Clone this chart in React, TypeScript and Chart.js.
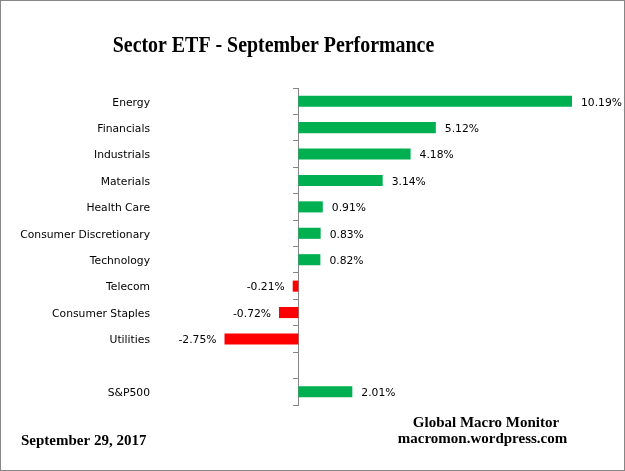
import React, { useEffect, useRef } from 'react';
import { Chart, registerables } from 'chart.js';

Chart.register(...registerables);

const categories = [
  'Energy',
  'Financials',
  'Industrials',
  'Materials',
  'Health Care',
  'Consumer Discretionary',
  'Technology',
  'Telecom',
  'Consumer Staples',
  'Utilities',
  '',
  'S&P500',
];
const performance: (number | null)[] = [10.19, 5.12, 4.18, 3.14, 0.91, 0.83, 0.82, -0.21, -0.72, -2.75, null, 2.01];

const titleText = 'Sector ETF - September Performance';
const dateText = 'September 29, 2017';
const sourceLines = ['Global Macro Monitor', 'macromon.wordpress.com'];

const GREEN = '#00B050';
const RED = '#FF0000';
const AXIS_GRAY = '#868686';
const LABEL_FONT = '"DejaVu Sans", sans-serif';
const SERIF = '"Liberation Serif", "Times New Roman", serif';

const valueLabelPlugin = {
  id: 'valueLabels',
  afterDatasetsDraw(chart: any) {
    const ctx = chart.ctx;
    const meta = chart.getDatasetMeta(0);
    ctx.save();
    ctx.font = `10.75px ${LABEL_FONT}`;
    ctx.fillStyle = '#000';
    ctx.textBaseline = 'middle';
    meta.data.forEach((el: any, i: number) => {
      const v = performance[i];
      if (v === null || v === undefined) return;
      const txt = v.toFixed(2) + '%';
      if (v >= 0) {
        ctx.textAlign = 'left';
        ctx.fillText(txt, el.x + 9, el.y + 1.5);
      } else {
        ctx.textAlign = 'right';
        ctx.fillText(txt, el.x - 8, el.y + 1.5);
      }
    });
    ctx.restore();
  },
};

const annotationsPlugin = {
  id: 'annotations',
  afterDraw(chart: any) {
    const ctx = chart.ctx;
    ctx.save();
    // outer border
    ctx.strokeStyle = AXIS_GRAY;
    ctx.lineWidth = 1;
    ctx.strokeRect(0.5, 0.5, chart.width - 1, chart.height - 1);

    ctx.fillStyle = '#000';
    ctx.textBaseline = 'alphabetic';

    // title
    ctx.save();
    ctx.font = `bold 23px ${SERIF}`;
    ctx.textAlign = 'center';
    ctx.translate(273.5, 51.7);
    ctx.scale(0.865, 1);
    ctx.fillText(titleText, 0, 0);
    ctx.restore();

    // date
    ctx.font = `bold 15px ${SERIF}`;
    ctx.textAlign = 'left';
    ctx.fillText(dateText, 21, 445);

    // source
    ctx.textAlign = 'center';
    ctx.fillText(sourceLines[0], 486, 427);
    ctx.fillText(sourceLines[1], 482.5, 443);
    ctx.restore();
  },
};

export default function App() {
  const canvasRef = useRef<HTMLCanvasElement | null>(null);

  useEffect(() => {
    if (!canvasRef.current) return;
    const chart = new Chart(canvasRef.current, {
      type: 'bar',
      data: {
        labels: categories,
        datasets: [
          {
            data: performance as any,
            backgroundColor: performance.map((v) => (v !== null && v < 0 ? RED : GREEN)),
            borderWidth: 0,
            barPercentage: 0.42,
            categoryPercentage: 1,
            xAxisID: 'x',
            yAxisID: 'y',
          },
        ],
      },
      options: {
        indexAxis: 'y',
        animation: false,
        responsive: true,
        maintainAspectRatio: false,
        layout: { padding: { top: 88, bottom: 66, left: 0, right: 24 } },
        plugins: {
          legend: { display: false },
          tooltip: { enabled: false },
          title: { display: false },
        },
        scales: {
          x: {
            type: 'linear',
            display: false,
            min: -5.45,
            max: 11.27,
            grid: { display: false },
          },
          y: {
            type: 'category',
            position: 'left',
            grid: { display: false, drawTicks: false },
            border: { display: false },
            ticks: {
              color: '#000',
              font: { family: LABEL_FONT, size: 10.75 },
              padding: 2,
              labelOffset: 1.5,
              autoSkip: false,
            },
            afterFit: (s: any) => {
              s.width = 152;
            },
          },
          y2: {
            type: 'category',
            axis: 'y',
            position: { x: 0 } as any,
            offset: true,
            grid: {
              offset: true,
              drawOnChartArea: false,
              drawTicks: true,
              tickLength: 5,
              color: AXIS_GRAY,
              lineWidth: 1,
            },
            border: { display: true, color: AXIS_GRAY, width: 1 },
            ticks: { display: false, autoSkip: false },
            afterFit: (s: any) => {
              s.width = 0;
            },
          } as any,
        },
      },
      plugins: [valueLabelPlugin, annotationsPlugin],
    });
    return () => chart.destroy();
  }, []);

  return (
    <div style={{ position: 'fixed', left: 0, top: 0, width: 625, height: 471, background: '#fff' }}>
      <canvas ref={canvasRef} />
    </div>
  );
}
